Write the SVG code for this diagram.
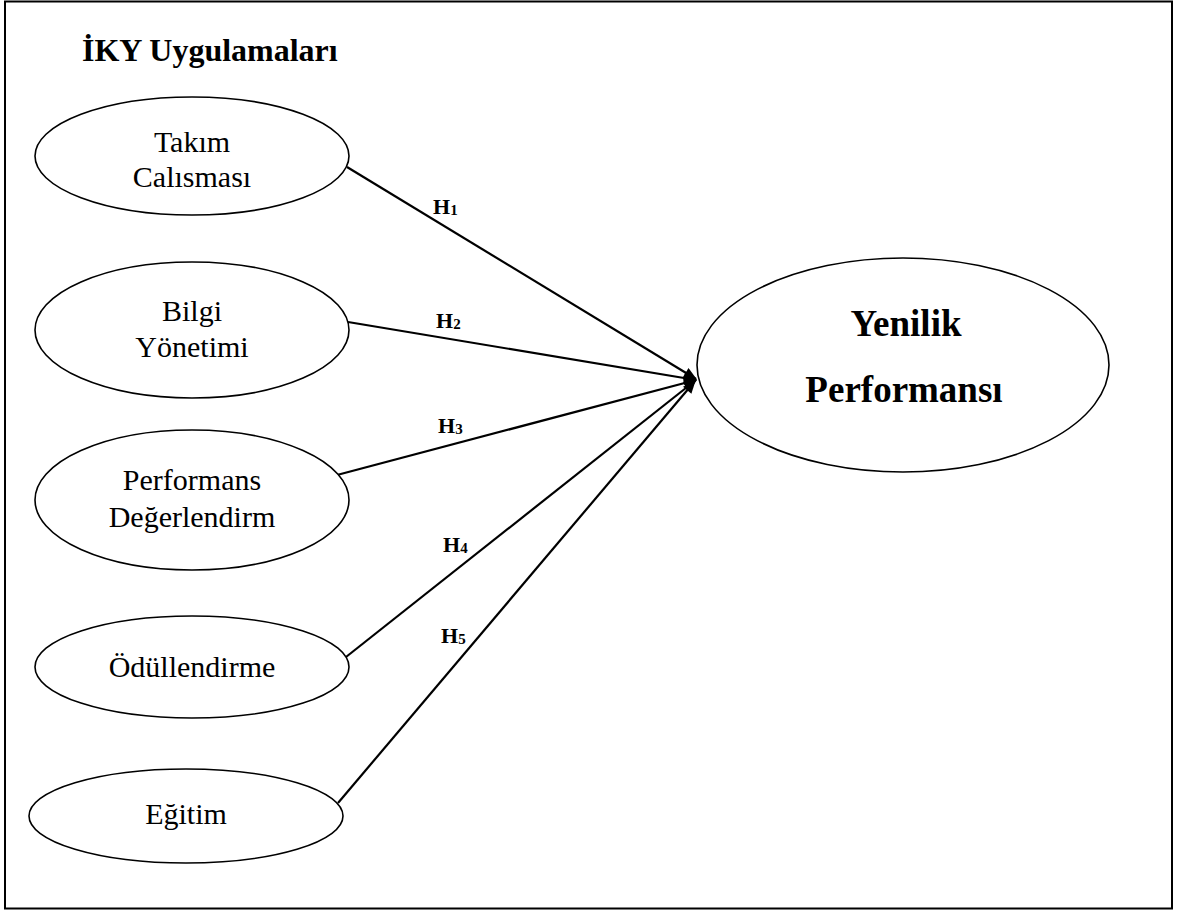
<svg xmlns="http://www.w3.org/2000/svg" width="1178" height="911" viewBox="0 0 1178 911">
<style>
.node ellipse{fill:#fff;stroke:#000;stroke-width:1.6}
.lbl{font-family:"Liberation Serif","Times New Roman",serif;font-size:30px;fill:#000;text-anchor:middle}
.big{font-family:"Liberation Serif","Times New Roman",serif;font-size:37px;font-weight:bold;fill:#000;text-anchor:middle}
.title{font-family:"Liberation Serif","Times New Roman",serif;font-size:32px;font-weight:bold;fill:#000}
.h{font-family:"Liberation Serif","Times New Roman",serif;font-size:22px;font-weight:bold;fill:#000}
.h tspan{font-size:15px}
.conn line{stroke:#000;stroke-width:2.2;fill:none;marker-end:url(#arr)}
</style>
<defs>
<marker id="arr" viewBox="0 0 12 10" refX="11" refY="5" markerWidth="14" markerHeight="11" markerUnits="userSpaceOnUse" orient="auto">
<path d="M0,0 L12,5 L0,10 z" fill="#000"/>
</marker>
</defs>
<rect x="5" y="1.5" width="1167" height="907" fill="#fff" stroke="#000" stroke-width="2"/>
<text class="title" x="82" y="61">İKY Uygulamaları</text>
<g class="conn">
<line x1="347" y1="167" x2="696" y2="379"/>
<line x1="348" y1="322" x2="696" y2="380"/>
<line x1="337" y1="475" x2="696" y2="380"/>
<line x1="346" y1="657" x2="696" y2="380"/>
<line x1="338" y1="803" x2="695" y2="381"/>
<text class="h" x="433" y="214">H<tspan dy="1">1</tspan></text>
<text class="h" x="436" y="328">H<tspan dy="1">2</tspan></text>
<text class="h" x="438" y="433">H<tspan dy="1">3</tspan></text>
<text class="h" x="443" y="552">H<tspan dy="1">4</tspan></text>
<text class="h" x="441" y="643">H<tspan dy="1">5</tspan></text>
</g>
<g id="n1" class="node">
<ellipse cx="192" cy="156" rx="157" ry="59"/>
<text class="lbl" x="192" y="152">Takım</text>
<text class="lbl" x="192" y="187">Calısması</text>
</g>
<g id="n2" class="node">
<ellipse cx="192" cy="330" rx="157" ry="68"/>
<text class="lbl" x="192" y="321">Bilgi</text>
<text class="lbl" x="192" y="357">Yönetimi</text>
</g>
<g id="n3" class="node">
<ellipse cx="192" cy="500" rx="157" ry="70"/>
<text class="lbl" x="192" y="490">Performans</text>
<text class="lbl" x="192" y="527">Değerlendirm</text>
</g>
<g id="n4" class="node">
<ellipse cx="192" cy="667" rx="157" ry="51"/>
<text class="lbl" x="192" y="677">Ödüllendirme</text>
</g>
<g id="n5" class="node">
<ellipse cx="186" cy="816" rx="157" ry="47"/>
<text class="lbl" x="186" y="824">Eğitim</text>
</g>
<g id="n6" class="node">
<ellipse cx="903" cy="365" rx="206" ry="107"/>
<text class="big" x="906" y="336">Yenilik</text>
<text class="big" x="904" y="402">Performansı</text>
</g>
</svg>
